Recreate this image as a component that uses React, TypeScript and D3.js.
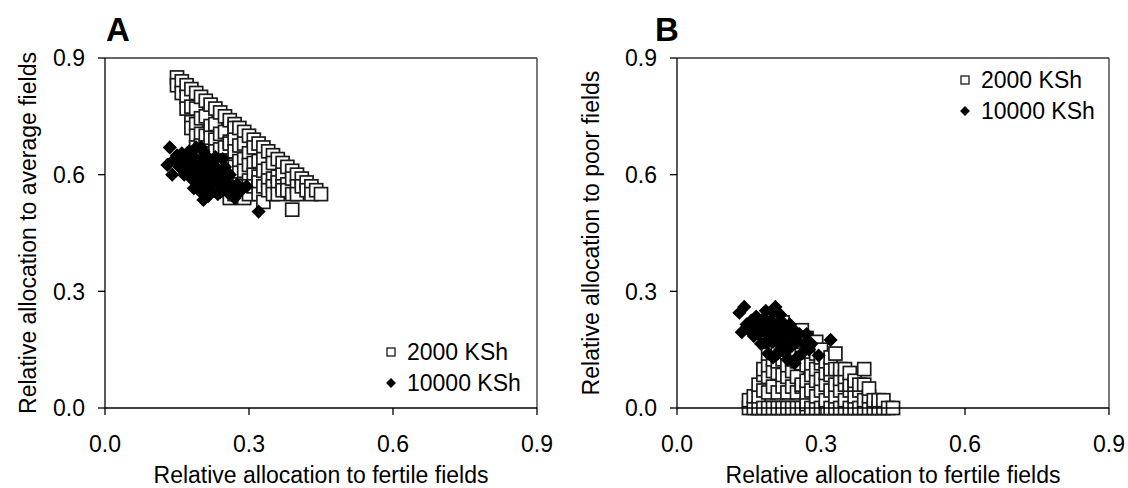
import * as d3 from "d3"

// shares of the budget: [fertile, average, poor]
const farms2000: [number, number, number][] = [
  [0.15, 0.85, 0], [0.15, 0.83, 0.02],
  [0.16, 0.84, 0], [0.16, 0.81, 0.03],
  [0.17, 0.83, 0], [0.17, 0.8, 0.03], [0.17, 0.77, 0.06],
  [0.18, 0.82, 0], [0.18, 0.775, 0.045], [0.18, 0.735, 0.085], [0.18, 0.72, 0.1],
  [0.19, 0.81, 0], [0.19, 0.77, 0.04], [0.19, 0.73, 0.08], [0.19, 0.7, 0.11], [0.19, 0.67, 0.14], [0.19, 0.64, 0.17],
  [0.2, 0.8, 0], [0.2, 0.745, 0.055], [0.2, 0.705, 0.095], [0.2, 0.675, 0.125], [0.2, 0.645, 0.155], [0.2, 0.62, 0.18],
  [0.21, 0.79, 0], [0.21, 0.75, 0.04], [0.21, 0.7, 0.09], [0.21, 0.67, 0.12], [0.21, 0.63, 0.16], [0.21, 0.6, 0.19], [0.21, 0.57, 0.22],
  [0.22, 0.78, 0], [0.22, 0.725, 0.055], [0.22, 0.695, 0.085], [0.22, 0.655, 0.125], [0.22, 0.625, 0.155], [0.22, 0.585, 0.195], [0.22, 0.56, 0.22],
  [0.23, 0.77, 0], [0.23, 0.73, 0.04], [0.23, 0.69, 0.08], [0.23, 0.66, 0.11], [0.23, 0.62, 0.15], [0.23, 0.58, 0.19],
  [0.24, 0.76, 0], [0.24, 0.705, 0.055], [0.24, 0.665, 0.095], [0.24, 0.635, 0.125], [0.24, 0.595, 0.165], [0.24, 0.57, 0.19],
  [0.25, 0.75, 0], [0.25, 0.71, 0.04], [0.25, 0.67, 0.08], [0.25, 0.63, 0.12], [0.25, 0.6, 0.15], [0.25, 0.56, 0.19],
  [0.26, 0.74, 0], [0.26, 0.685, 0.055], [0.26, 0.68, 0.06], [0.26, 0.625, 0.115], [0.26, 0.595, 0.145], [0.26, 0.57, 0.17], [0.26, 0.54, 0.2],
  [0.27, 0.73, 0], [0.27, 0.72, 0.01], [0.27, 0.69, 0.04], [0.27, 0.66, 0.07], [0.27, 0.62, 0.11], [0.27, 0.58, 0.15], [0.27, 0.55, 0.18],
  [0.28, 0.72, 0], [0.28, 0.675, 0.045], [0.28, 0.635, 0.085], [0.28, 0.605, 0.115], [0.28, 0.575, 0.145], [0.28, 0.56, 0.16],
  [0.29, 0.71, 0], [0.29, 0.68, 0.03], [0.29, 0.64, 0.07], [0.29, 0.61, 0.1], [0.29, 0.57, 0.14], [0.29, 0.54, 0.17],
  [0.3, 0.7, 0], [0.3, 0.655, 0.045], [0.3, 0.625, 0.075], [0.3, 0.585, 0.115], [0.3, 0.57, 0.13], [0.3, 0.55, 0.15],
  [0.31, 0.69, 0], [0.31, 0.67, 0.02], [0.31, 0.63, 0.06], [0.31, 0.6, 0.09], [0.31, 0.57, 0.12],
  [0.32, 0.68, 0], [0.32, 0.635, 0.045], [0.32, 0.595, 0.085], [0.32, 0.58, 0.1], [0.32, 0.55, 0.13],
  [0.33, 0.67, 0], [0.33, 0.64, 0.03], [0.33, 0.61, 0.06], [0.33, 0.57, 0.1], [0.33, 0.53, 0.14],
  [0.34, 0.66, 0], [0.34, 0.615, 0.045], [0.34, 0.585, 0.075], [0.34, 0.56, 0.1],
  [0.35, 0.65, 0], [0.35, 0.63, 0.02], [0.35, 0.59, 0.06], [0.35, 0.57, 0.08], [0.35, 0.55, 0.1],
  [0.36, 0.64, 0], [0.36, 0.595, 0.045], [0.36, 0.58, 0.06], [0.36, 0.55, 0.09],
  [0.37, 0.63, 0], [0.37, 0.6, 0.03], [0.37, 0.57, 0.06], [0.37, 0.56, 0.07],
  [0.38, 0.62, 0], [0.38, 0.575, 0.045], [0.38, 0.56, 0.06],
  [0.39, 0.61, 0], [0.39, 0.59, 0.02], [0.39, 0.55, 0.06], [0.39, 0.51, 0.1],
  [0.4, 0.6, 0], [0.4, 0.57, 0.03], [0.4, 0.55, 0.05],
  [0.41, 0.59, 0], [0.41, 0.57, 0.02],
  [0.42, 0.58, 0], [0.42, 0.56, 0.02],
  [0.43, 0.57, 0], [0.43, 0.55, 0.02],
  [0.44, 0.56, 0],
  [0.45, 0.55, 0],
]

const farms10000: [number, number, number][] = [
  [0.135, 0.67, 0.195], [0.13, 0.625, 0.245], [0.14, 0.6, 0.26], [0.145, 0.64, 0.215],
  [0.16, 0.655, 0.185], [0.155, 0.62, 0.225], [0.165, 0.6, 0.235], [0.17, 0.64, 0.19],
  [0.175, 0.66, 0.165], [0.18, 0.62, 0.2], [0.18, 0.59, 0.23], [0.185, 0.645, 0.17],
  [0.19, 0.67, 0.14], [0.19, 0.61, 0.2], [0.195, 0.58, 0.225], [0.2, 0.63, 0.17],
  [0.2, 0.6, 0.2], [0.2, 0.555, 0.245], [0.205, 0.535, 0.26], [0.21, 0.65, 0.14],
  [0.21, 0.615, 0.175], [0.21, 0.575, 0.215], [0.215, 0.595, 0.19], [0.22, 0.63, 0.15],
  [0.22, 0.56, 0.22], [0.225, 0.61, 0.165], [0.23, 0.585, 0.185], [0.23, 0.645, 0.125],
  [0.235, 0.55, 0.215], [0.24, 0.6, 0.16], [0.24, 0.57, 0.19], [0.25, 0.62, 0.13],
  [0.25, 0.58, 0.17], [0.255, 0.555, 0.19], [0.26, 0.6, 0.14], [0.27, 0.54, 0.19],
  [0.275, 0.575, 0.15], [0.295, 0.57, 0.135], [0.32, 0.505, 0.175], [0.19, 0.64, 0.17],
  [0.205, 0.66, 0.135], [0.17, 0.62, 0.21], [0.215, 0.545, 0.24], [0.185, 0.565, 0.25],
  [0.23, 0.62, 0.15], [0.245, 0.64, 0.115], [0.2, 0.67, 0.13], [0.16, 0.63, 0.21],
  [0.175, 0.605, 0.22], [0.195, 0.625, 0.18], [0.215, 0.635, 0.15], [0.205, 0.585, 0.21],
  [0.225, 0.58, 0.195], [0.185, 0.6, 0.215], [0.24, 0.555, 0.205], [0.15, 0.65, 0.2],
  [0.265, 0.57, 0.165], [0.28, 0.555, 0.165],
]

const ticks = [0, 0.3, 0.6, 0.9]
const seriesNames = ["2000 KSh", "10000 KSh"]
const xTitle = "Relative allocation to fertile fields"
const yTitles = [
  "Relative allocation to average fields",
  "Relative allocation to poor fields",
]
const panelLetters = ["A", "B"]

const font = "'Liberation Sans', Arial, sans-serif"
const top = 58
const bottom = 408
const plotW = 432

type PanelProps = {
  x0: number
  col: 1 | 2
  letter: string
  letterX: number
  yTitle: string
  yTitleX: number
  legendX: number
  legendY: number
}

function Square({ x, y, s, w = 1.7 }: { x: number; y: number; s: number; w?: number }) {
  return (
    <rect
      x={x - s / 2}
      y={y - s / 2}
      width={s}
      height={s}
      fill="#fff"
      stroke="#1a1a1a"
      strokeWidth={w}
    />
  )
}

function Diamond({ x, y, s }: { x: number; y: number; s: number }) {
  const path = d3.symbol(d3.symbolSquare, s * s)()
  return (
    <path
      d={path ?? ""}
      transform={`translate(${x},${y}) rotate(45)`}
      fill="#000"
    />
  )
}

function Panel({ x0, col, letter, letterX, yTitle, yTitleX, legendX, legendY }: PanelProps) {
  const x = d3.scaleLinear([0, 0.9], [x0, x0 + plotW])
  const y = d3.scaleLinear([0, 0.9], [bottom, top])
  const right = x(0.9)
  const fmt = d3.format(".1f")

  return (
    <g fontFamily={font} fontSize={23} fill="#000">
      <text x={letterX} y={41} fontSize={33} fontWeight="bold">
        {letter}
      </text>

      {farms2000.map((d, i) => (
        <Square key={`s${i}`} x={x(d[0])} y={y(d[col])} s={13} />
      ))}
      {farms10000.map((d, i) => (
        <Diamond key={`d${i}`} x={x(d[0])} y={y(d[col])} s={10} />
      ))}

      {/* box */}
      <line x1={x0} x2={right} y1={top} y2={top} stroke="#333" strokeWidth={1.3} />
      <line x1={right} x2={right} y1={top} y2={bottom} stroke="#333" strokeWidth={1.3} />
      <line x1={x0} x2={x0} y1={top} y2={bottom} stroke="#000" strokeWidth={1.3} />
      <line x1={x0} x2={right} y1={bottom} y2={bottom} stroke="#000" strokeWidth={1.3} />

      {ticks.map((t) => (
        <g key={`x${t}`}>
          <line x1={x(t)} x2={x(t)} y1={bottom} y2={bottom + 7} stroke="#000" strokeWidth={1.3} />
          <text x={x(t)} y={452} textAnchor="middle">
            {fmt(t)}
          </text>
        </g>
      ))}
      {ticks.map((t) => (
        <g key={`y${t}`}>
          <line x1={x0 - 7} x2={x0} y1={y(t)} y2={y(t)} stroke="#000" strokeWidth={1.3} />
          <text x={x0 - 20} y={y(t)} dy="0.36em" textAnchor="end">
            {fmt(t)}
          </text>
        </g>
      ))}

      <text x={(x0 + right) / 2} y={483} textAnchor="middle">
        {xTitle}
      </text>
      <text
        transform={`translate(${yTitleX},${(top + bottom) / 2}) rotate(-90)`}
        textAnchor="middle"
        dy="0.36em"
      >
        {yTitle}
      </text>

      {/* legend */}
      <Square x={legendX} y={legendY} s={8} w={1.3} />
      <text x={legendX + 16} y={legendY} dy="0.36em">
        {seriesNames[0]}
      </text>
      <Diamond x={legendX} y={legendY + 31} s={7} />
      <text x={legendX + 16} y={legendY + 31} dy="0.36em">
        {seriesNames[1]}
      </text>
    </g>
  )
}

export default function App() {
  return (
    <svg
      width={1128}
      height={488}
      viewBox="0 0 1128 488"
      style={{ position: "absolute", left: 0, top: 0, background: "#fff" }}
    >
      <Panel
        x0={105}
        col={1}
        letter={panelLetters[0]}
        letterX={106}
        yTitle={yTitles[0]}
        yTitleX={28}
        legendX={391}
        legendY={352}
      />
      <Panel
        x0={677}
        col={2}
        letter={panelLetters[1]}
        letterX={655}
        yTitle={yTitles[1]}
        yTitleX={591}
        legendX={965}
        legendY={80}
      />
    </svg>
  )
}
